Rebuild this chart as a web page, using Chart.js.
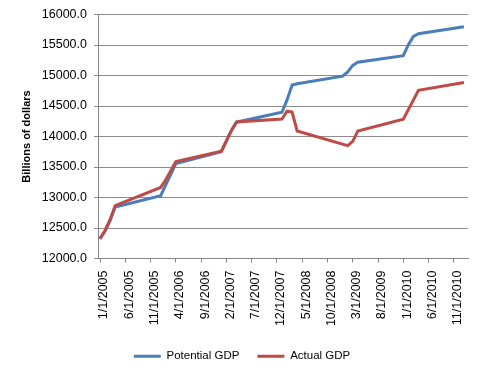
<!DOCTYPE html>
<html>
<head>
<meta charset="utf-8">
<script src="https://cdn.jsdelivr.net/npm/chart.js@4.4.1/dist/chart.umd.min.js"></script>
<style>
  html, body { margin: 0; padding: 0; background: #fff; }
  #c { display: block; }
</style>
</head>
<body>
<canvas id="c" width="480" height="375"></canvas>
<script>
// Potential vs actual GDP, billions of dollars

const xTickLabels = ["1/1/2005", "6/1/2005", "11/1/2005", "4/1/2006", "9/1/2006", "2/1/2007",
    "7/1/2007", "12/1/2007", "5/1/2008", "10/1/2008", "3/1/2009", "8/1/2009",
    "1/1/2010", "6/1/2010", "11/1/2010"];

const potentialDates = ["1/1/2005", "2/1/2005", "3/1/2005", "4/1/2005", "1/1/2006", "4/1/2006",
    "1/1/2007", "2/1/2007", "3/1/2007", "4/1/2007", "1/1/2008", "2/1/2008", "3/1/2008", "4/1/2008",
    "1/1/2009", "2/1/2009", "3/1/2009", "4/1/2009", "1/1/2010", "2/1/2010", "3/1/2010", "4/1/2010",
    "1/1/2011"];
const potentialValues = [12320, 12450, 12620, 12845, 13030, 13556,
    13750, 13925, 14100, 14235, 14398, 14600, 14845, 14865,
    14990, 15060, 15165, 15218, 15325, 15505, 15640, 15685,
    15800];

const actualDates = ["1/1/2005", "2/1/2005", "3/1/2005", "4/1/2005", "1/1/2006", "2/1/2006",
    "3/1/2006", "4/1/2006", "1/1/2007", "2/1/2007", "3/1/2007", "4/1/2007", "1/1/2008", "2/1/2008",
    "3/1/2008", "4/1/2008", "2/1/2009", "3/1/2009", "4/1/2009", "1/1/2010", "4/1/2010", "1/1/2011"];
const actualValues = [12330, 12460, 12640, 12868, 13165, 13290,
    13440, 13588, 13760, 13930, 14100, 14238, 14285, 14415,
    14400, 14090, 13850, 13920, 14090, 14282, 14757, 14885];

const seriesNames = ["Potential GDP", "Actual GDP"];
const seriesColors = ["#4A7EBB", "#BE4B48"];

function monthIndex(s) {
    const parts = s.split("/").map(Number);
    return (parts[2] - 2005) * 12 + (parts[0] - 1);
}

function toPoints(dates, values) {
    return dates.map((d, i) => ({ x: monthIndex(d), y: values[i] }));
}

const fontFamily = "'Liberation Sans', Arial, sans-serif";
const axisGray = "#868686";

new Chart(document.getElementById("c"), {
    type: "line",
    data: {
        datasets: [
            {
                label: seriesNames[0],
                data: toPoints(potentialDates, potentialValues),
                borderColor: seriesColors[0],
                backgroundColor: seriesColors[0],
                borderWidth: 3,
                pointRadius: 0,
                tension: 0,
                order: 1
            },
            {
                label: seriesNames[1],
                data: toPoints(actualDates, actualValues),
                borderColor: seriesColors[1],
                backgroundColor: seriesColors[1],
                borderWidth: 3,
                pointRadius: 0,
                tension: 0,
                order: 0
            }
        ]
    },
    options: {
        responsive: false,
        animation: false,
        layout: { padding: { left: 16, right: 12, top: 6, bottom: 3 } },
        plugins: {
            tooltip: { enabled: false },
            legend: {
                position: "bottom",
                labels: {
                    usePointStyle: true,
                    pointStyle: "line",
                    pointStyleWidth: 27,
                    boxHeight: 3,
                    padding: 18,
                    color: "#000",
                    font: { family: fontFamily, size: 11.5 },
                    sort: (a, b) => a.datasetIndex - b.datasetIndex
                }
            }
        },
        scales: {
            x: {
                type: "linear",
                min: -0.4,
                max: 72.8,
                afterBuildTicks: function(scale) {
                    scale.ticks = xTickLabels.map(l => ({ value: monthIndex(l) }));
                },
                afterFit: function(scale) { scale.height = 74; },
                grid: { drawOnChartArea: false, tickLength: 4, color: axisGray },
                border: { color: axisGray },
                ticks: {
                    autoSkip: false,
                    minRotation: 90,
                    maxRotation: 90,
                    padding: 8,
                    labelOffset: 4,
                    color: "#000",
                    font: { family: fontFamily, size: 12.5 },
                    callback: function(value, index) { return xTickLabels[index]; }
                }
            },
            y: {
                min: 12000,
                max: 16000,
                afterFit: function(scale) { scale.width = 82; },
                grid: { color: "#8c8c8c", tickLength: 4 },
                border: { color: axisGray },
                ticks: {
                    stepSize: 500,
                    padding: 7,
                    color: "#000",
                    font: { family: fontFamily, size: 12.5 },
                    callback: v => v.toFixed(1)
                },
                title: {
                    display: true,
                    text: "Billions of dollars",
                    color: "#000",
                    font: { family: fontFamily, size: 11, weight: "bold" }
                }
            }
        }
    }
});
</script>
</body>
</html>
